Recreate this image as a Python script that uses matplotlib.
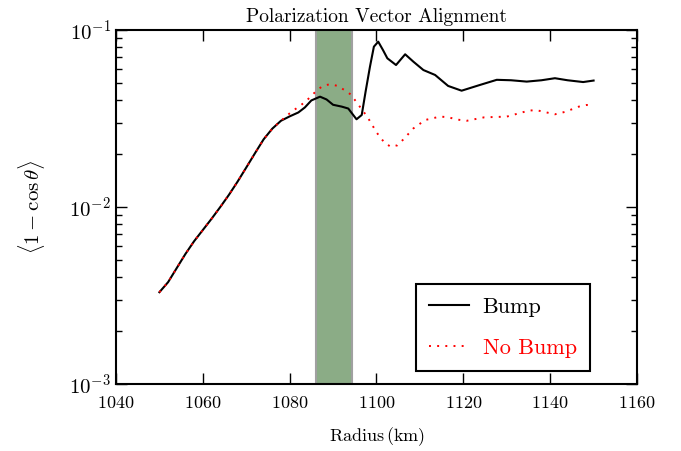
import matplotlib
matplotlib.use("Agg")
import matplotlib.pyplot as plt

plt.rcParams['font.family'] = 'serif'
plt.rcParams['font.serif'] = ['cmr10']
plt.rcParams['mathtext.fontset'] = 'cm'
plt.rcParams['axes.unicode_minus'] = False
plt.rcParams['axes.formatter.use_mathtext'] = True

# Shared rising part (both curves coincide)
x_common = [1050, 1052, 1054, 1056, 1058, 1060, 1062, 1064, 1066, 1068,
            1070, 1072, 1074, 1076, 1078]
y_common = [3.3e-3, 3.76e-3, 4.52e-3, 5.43e-3, 6.41e-3, 7.41e-3, 8.57e-3,
            9.98e-3, 1.17e-2, 1.39e-2, 1.67e-2, 2.01e-2, 2.41e-2, 2.77e-2, 3.07e-2]

x_bump_tail = [1080, 1082, 1083.5, 1085, 1087, 1088.5, 1090, 1092, 1093.5,
               1095.4, 1096.6, 1097.5, 1098.5, 1099.4, 1100.4, 1101.5, 1102.5,
               1104.5, 1106.6, 1108.5, 1110.8, 1113.5, 1116.5, 1119.6, 1123.8,
               1127.7, 1131, 1134.6, 1138, 1141.1, 1144, 1147.6, 1150]
bump_tail = [3.25e-2, 3.42e-2, 3.65e-2, 4.0e-2, 4.2e-2, 4.05e-2, 3.78e-2,
             3.69e-2, 3.6e-2, 3.13e-2, 3.31e-2, 4.5e-2, 6.21e-2, 8.05e-2,
             8.59e-2, 7.7e-2, 6.92e-2, 6.34e-2, 7.29e-2, 6.62e-2, 5.94e-2,
             5.57e-2, 4.83e-2, 4.54e-2, 4.89e-2, 5.23e-2, 5.2e-2, 5.11e-2,
             5.2e-2, 5.34e-2, 5.2e-2, 5.08e-2, 5.18e-2]

x_nobump_tail = [1080, 1081, 1082.4, 1083.9, 1085.1, 1086.2, 1087.6, 1089.3,
                 1091.1, 1092.6, 1093.9, 1095, 1097, 1098.1, 1099.9, 1100.8,
                 1102, 1103.3, 1104.8, 1106.2, 1108.5, 1111.2, 1114.6, 1116.4,
                 1118.5, 1120.8, 1124.8, 1130, 1135, 1136.7, 1138.5, 1141.1,
                 1143.5, 1146.6, 1148.4, 1150]
nobump_tail = [3.38e-2, 3.53e-2, 3.73e-2, 3.99e-2, 4.27e-2, 4.54e-2, 4.83e-2,
               4.94e-2, 4.83e-2, 4.58e-2, 4.35e-2, 4.03e-2, 3.46e-2, 3.17e-2,
               2.67e-2, 2.48e-2, 2.29e-2, 2.19e-2, 2.23e-2, 2.41e-2, 2.78e-2,
               3.10e-2, 3.24e-2, 3.22e-2, 3.12e-2, 3.07e-2, 3.21e-2, 3.24e-2,
               3.50e-2, 3.53e-2, 3.45e-2, 3.34e-2, 3.45e-2, 3.69e-2, 3.77e-2,
               3.73e-2]

band = [1086, 1094.3]
labels = ["Bump", "No Bump"]

fig = plt.figure(figsize=(6.81, 4.51), dpi=100)
ax = fig.add_axes([0.1703, 0.1486, 0.7651, 0.7849])

ax.axvspan(band[0], band[1], facecolor='#8bac86', edgecolor='#a0a0a0', lw=1.5, zorder=1)
ax.plot(x_common + x_bump_tail, y_common + bump_tail, color='black', lw=1.5,
        label=labels[0], zorder=2)
ax.plot(x_common + x_nobump_tail, y_common + nobump_tail, color='red', lw=1.4,
        linestyle=(0, (1, 3.2)), label=labels[1], zorder=3)

ax.set_yscale('log')
ax.set_xlim(1040, 1160)
ax.set_ylim(1e-3, 1e-1)
ax.set_xticks([1040, 1060, 1080, 1100, 1120, 1140, 1160])

for s in ax.spines.values():
    s.set_linewidth(1.5)
ax.tick_params(which='both', direction='in', top=True, right=True, labelsize=13)
ax.tick_params(axis='y', labelsize=15)
ax.tick_params(which='major', length=8, width=1)
ax.tick_params(which='minor', length=4, width=1)
ax.tick_params(axis='x', pad=8)

ax.set_title('Polarization Vector Alignment', fontsize=14, pad=6)
ax.set_xlabel(r'Radius$\,(\mathrm{km})$', fontsize=13, labelpad=10)
ax.set_ylabel(r'$\langle 1-\cos\theta\rangle$', fontsize=15, labelpad=16)

leg = ax.legend(loc='lower right', bbox_to_anchor=(0.910, 0.037), fontsize=16,
                fancybox=False, framealpha=1, edgecolor='black',
                handlelength=1.8, borderpad=0.6, labelspacing=0.95,
                handletextpad=0.6, borderaxespad=0)
leg.get_frame().set_linewidth(1.5)
for t, c in zip(leg.get_texts(), ['black', 'red']):
    t.set_color(c)

fig.savefig('out.png', dpi=100)
